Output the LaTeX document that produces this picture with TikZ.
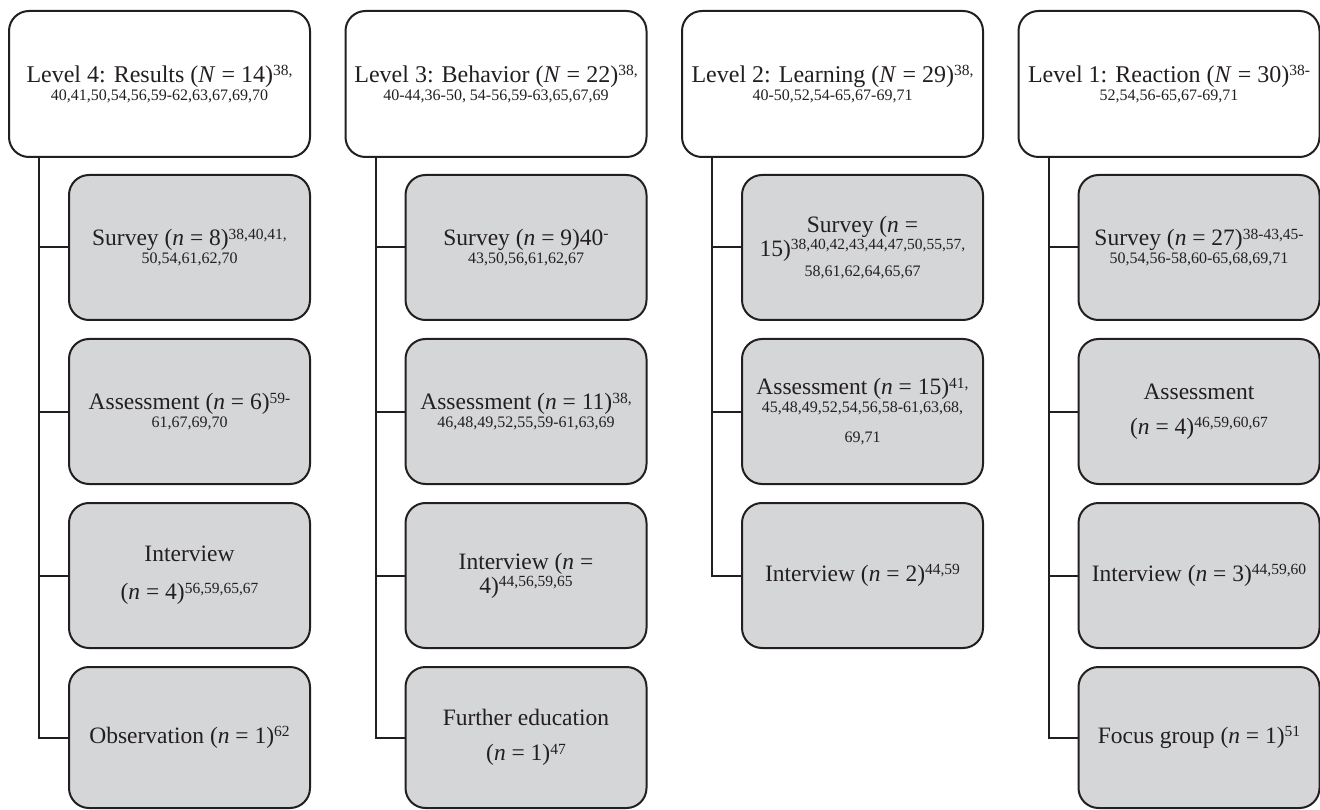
\documentclass[tikz,border=0pt]{standalone}
\usepackage{fontspec}
\setmainfont{Liberation Serif}
\definecolor{ink}{HTML}{231F20}
\definecolor{boxgray}{HTML}{D5D6D8}
\newcommand\sups[1]{\raisebox{6.5pt}{\fontsize{15.5}{15.5}\selectfont #1}}
\newcommand\smalltxt[1]{{\fontsize{16}{16}\selectfont #1}}
\newcommand\topfont{\fontsize{24}{18}\selectfont\lineskiplimit=-40pt\relax\lineskip=0pt\relax}
\newcommand\childfont{\fontsize{23.5}{18}\selectfont\lineskiplimit=-40pt\relax\lineskip=0pt\relax}
\tikzset{
  topbox/.style={draw=ink, line width=2pt, rounded corners=20pt, fill=white,
    minimum width=301pt, minimum height=146pt, inner sep=0pt, align=center, text=ink,
    font=\topfont},
  childbox/.style={draw=ink, line width=2pt, rounded corners=20pt, fill=boxgray,
    minimum width=241pt, minimum height=145pt, inner sep=0pt, align=center, text=ink,
    font=\childfont},
  lastbox/.style={childbox, minimum height=141pt},
  link/.style={draw=ink, line width=2pt}
}
\begin{document}
\begin{tikzpicture}[x=1pt, y=-1pt]
\useasboundingbox (0,0) rectangle (1320,810);
% top boxes
\node[topbox] (t1) at (159.5,84) {Level 4: Results (\textit{N} = 14)\sups{38,}\\ \smalltxt{40,41,50,54,56,59-62,63,67,69,70}};
\node[topbox] (t2) at (496,84) {Level 3: Behavior (\textit{N} = 22)\sups{38,}\\ \smalltxt{40-44,36-50, 54-56,59-63,65,67,69}};
\node[topbox] (t3) at (832.5,84) {Level 2: Learning (\textit{N} = 29)\sups{38,}\\ \smalltxt{40-50,52,54-65,67-69,71}};
\node[topbox] (t4) at (1169,84) {Level 1: Reaction (\textit{N} = 30)\sups{38-}\\ \smalltxt{52,54,56-65,67-69,71}};
% trunk start coordinates
\coordinate (s1) at (39,157);
\coordinate (s2) at (375.5,157);
\coordinate (s3) at (712,157);
\coordinate (s4) at (1048.5,157);
% column 1
\node[childbox] (c11) at (189.5,247.5) {Survey (\textit{n} = 8)\sups{38,40,41,}\\ \smalltxt{50,54,61,62,70}};
\node[childbox] (c12) at (189.5,411.5) {Assessment (\textit{n} = 6)\sups{59-}\\ \smalltxt{61,67,69,70}};
\node[childbox] (c13) at (189.5,575.5) {Interview\\[20pt](\textit{n} = 4)\sups{56,59,65,67}};
\node[lastbox] (c14) at (189.5,737.5) {Observation (\textit{n} = 1)\sups{62}};
% column 2
\node[childbox] (c21) at (526,247.5) {Survey (\textit{n} = 9)40\sups{-}\\ \smalltxt{43,50,56,61,62,67}};
\node[childbox] (c22) at (526,411.5) {Assessment (\textit{n} = 11)\sups{38,}\\ \smalltxt{46,48,49,52,55,59-61,63,69}};
\node[childbox] (c23) at (526,575.5) {Interview (\textit{n} =\\[6pt]4)\sups{44,56,59,65}};
\node[lastbox] (c24) at (526,737.5) {Further education\\[17pt](\textit{n} = 1)\sups{47}};
% column 3
\node[childbox] (c31) at (862.5,247.5) {Survey (\textit{n} =\\[6pt]15)\sups{38,40,42,43,44,47,50,55,57,}\\[2pt]\smalltxt{58,61,62,64,65,67}};
\node[childbox] (c32) at (862.5,411.5) {Assessment (\textit{n} = 15)\sups{41,}\\ \smalltxt{45,48,49,52,54,56,58-61,63,68,}\\[12pt]\smalltxt{69,71}};
\node[childbox] (c33) at (862.5,575.5) {Interview (\textit{n} = 2)\sups{44,59}};
% column 4
\node[childbox] (c41) at (1199,247.5) {Survey (\textit{n} = 27)\sups{38-43,45-}\\ \smalltxt{50,54,56-58,60-65,68,69,71}};
\node[childbox] (c42) at (1199,411.5) {Assessment\\[17pt](\textit{n} = 4)\sups{46,59,60,67}};
\node[childbox] (c43) at (1199,575.5) {Interview (\textit{n} = 3)\sups{44,59,60}};
\node[lastbox] (c44) at (1199,737.5) {Focus group (\textit{n} = 1)\sups{51}};
% connectors
\foreach \c/\k in {1/1,1/2,1/3,1/4,2/1,2/2,2/3,2/4,3/1,3/2,3/3,4/1,4/2,4/3,4/4}{
  \draw[link] (s\c) |- (c\c\k.west);
}
\end{tikzpicture}
\end{document}
